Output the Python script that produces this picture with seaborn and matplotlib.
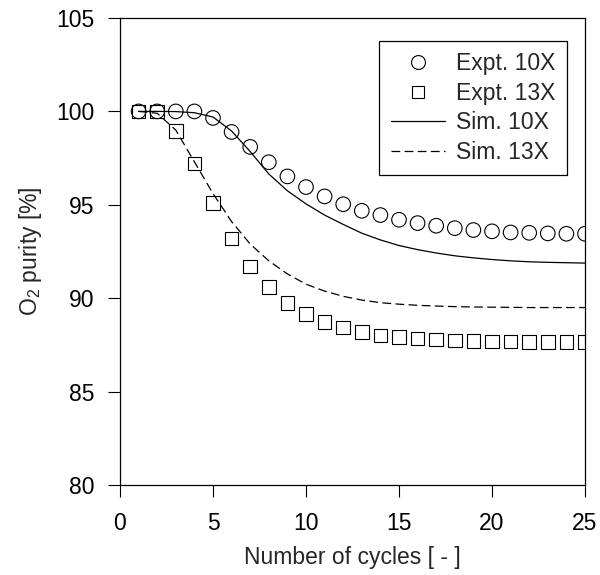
import matplotlib
matplotlib.use("Agg")
import matplotlib.pyplot as plt
import seaborn as sns
import pandas as pd
from matplotlib.lines import Line2D

cycles = list(range(1, 26))
expt_10x = [100.0, 100.0, 100.0, 100.0, 99.65, 98.9, 98.1, 97.28, 96.52, 95.95,
            95.45, 95.03, 94.68, 94.45, 94.2, 94.02, 93.88, 93.75, 93.65, 93.58,
            93.52, 93.5, 93.47, 93.45, 93.45]
expt_13x = [100.0, 100.0, 98.95, 97.22, 95.1, 93.2, 91.7, 90.6, 89.75, 89.15,
            88.73, 88.44, 88.2, 88.0, 87.93, 87.84, 87.78, 87.74, 87.7, 87.69,
            87.68, 87.67, 87.66, 87.66, 87.66]
sim_10x = [100.0, 100.0, 99.99, 99.93, 99.7, 98.95, 97.85, 96.65, 95.75, 95.05,
           94.45, 93.95, 93.48, 93.12, 92.82, 92.6, 92.42, 92.27, 92.16, 92.07,
           92.0, 91.95, 91.92, 91.9, 91.88]
sim_13x = [100.0, 99.9, 99.0, 97.3, 95.6, 94.1, 92.9, 92.0, 91.3, 90.75,
           90.38, 90.1, 89.9, 89.76, 89.68, 89.62, 89.58, 89.55, 89.53, 89.52,
           89.51, 89.5, 89.5, 89.5, 89.5]

x_ticks = [0, 5, 10, 15, 20, 25]
y_ticks = [80, 85, 90, 95, 100, 105]

df = pd.DataFrame({"cycle": cycles, "e10": expt_10x, "e13": expt_13x,
                   "s10": sim_10x, "s13": sim_13x})

sns.set_style("ticks")
plt.rcParams["font.family"] = ["Liberation Sans", "DejaVu Sans"]
plt.rcParams["mathtext.default"] = "regular"

FS = 16.5

fig = plt.figure(figsize=(6.0, 5.75), dpi=100)
ax = fig.add_axes([0.2, 0.1565, 0.775, 0.8122])

sns.lineplot(data=df, x="cycle", y="s10", ax=ax, color="black", linewidth=0.9)
sns.lineplot(data=df, x="cycle", y="s13", ax=ax, color="black", linewidth=0.9,
             dashes=False)
ax.lines[-1].set_dashes((7, 3.5))
sns.scatterplot(data=df, x="cycle", y="e10", ax=ax, marker="o", s=110,
                facecolors="none", edgecolor="black", linewidth=0.8, zorder=3)
sns.scatterplot(data=df, x="cycle", y="e13", ax=ax, marker="s", s=95,
                facecolors="none", edgecolor="black", linewidth=0.8, zorder=3)

ax.set_xlim(0, 25)
ax.set_ylim(80, 105)
ax.set_xticks(x_ticks)
ax.set_yticks(y_ticks)
ax.tick_params(direction="out", length=8.5, width=0.8, labelsize=FS,
               colors="black")
ax.tick_params(axis="x", pad=11)
ax.tick_params(axis="y", pad=10)
for sp in ax.spines.values():
    sp.set_visible(True)
    sp.set_color("black")
    sp.set_linewidth(0.9)

ax.set_xlabel("Number of cycles [ - ]", fontsize=FS, labelpad=8)
ax.set_ylabel("O$_2$ purity [%]", fontsize=FS, labelpad=9)

handles = [
    Line2D([], [], linestyle="none", marker="o", markersize=10,
           markerfacecolor="none", markeredgecolor="black", markeredgewidth=0.8),
    Line2D([], [], linestyle="none", marker="s", markersize=9,
           markerfacecolor="none", markeredgecolor="black", markeredgewidth=0.8),
    Line2D([], [], color="black", linewidth=0.9),
    Line2D([], [], color="black", linewidth=0.9, dashes=(7, 3.5)),
]
labels = ["Expt. 10X", "Expt. 13X", "Sim. 10X", "Sim. 13X"]
leg = ax.legend(handles, labels, loc="upper right",
                bbox_to_anchor=(0.962, 0.951), borderaxespad=0,
                fontsize=FS, frameon=True, fancybox=False, framealpha=1,
                edgecolor="black", handlelength=2.35, handletextpad=0.52,
                labelspacing=0.28, borderpad=0.5)
leg.get_frame().set_linewidth(0.9)

fig.savefig("out.png", dpi=100)
